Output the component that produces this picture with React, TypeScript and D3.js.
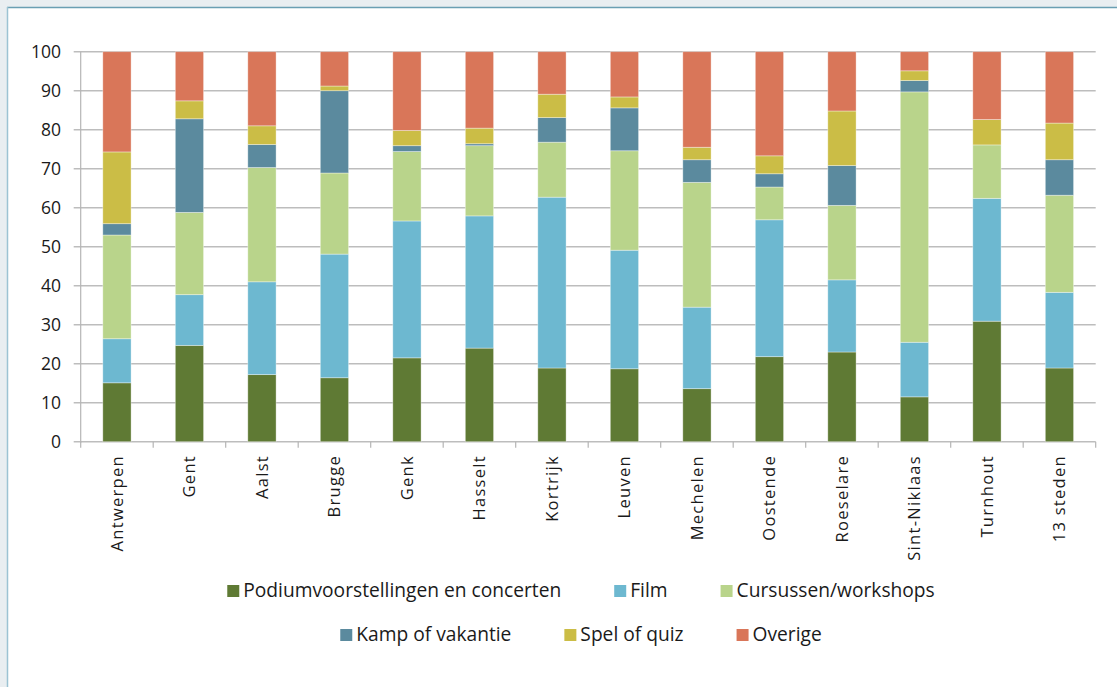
import React, { useEffect, useRef } from "react";
import * as d3 from "d3";

const categories = ["Antwerpen", "Gent", "Aalst", "Brugge", "Genk", "Hasselt", "Kortrijk", "Leuven", "Mechelen", "Oostende", "Roeselare", "Sint-Niklaas", "Turnhout", "13 steden"];
const seriesNames = ["Podiumvoorstellingen en concerten", "Film", "Cursussen/workshops", "Kamp of vakantie", "Spel of quiz", "Overige"];
const podium = [15.1, 24.7, 17.2, 16.4, 21.5, 24.0, 18.9, 18.7, 13.6, 21.8, 23.0, 11.5, 30.9, 18.9];
const film = [11.3, 13.0, 23.8, 31.7, 35.1, 33.9, 43.8, 30.4, 20.9, 35.1, 18.5, 14.0, 31.5, 19.4];
const cursussen = [26.6, 21.1, 29.3, 20.8, 17.8, 18.0, 14.1, 25.5, 32.0, 8.4, 19.1, 64.2, 13.7, 24.9];
const kamp = [2.9, 24.0, 5.9, 21.1, 1.5, 0.5, 6.3, 11.0, 5.8, 3.4, 10.2, 2.9, 0, 9.1];
const spel = [18.4, 4.6, 4.8, 1.2, 3.9, 4.0, 6.0, 2.8, 3.2, 4.6, 14.0, 2.5, 6.5, 9.4];
const overige = [25.7, 12.6, 19.0, 8.8, 20.2, 19.6, 10.9, 11.6, 24.5, 26.7, 15.2, 4.9, 17.4, 18.3];
const colors = ["#5f7a34", "#6db8d0", "#b9d48b", "#5b8a9e", "#cbbd46", "#d97659"];
const yTicks = [0, 10, 20, 30, 40, 50, 60, 70, 80, 90, 100];

const FONT = "'Open Sans', sans-serif";

export default function App() {
  const ref = useRef<SVGSVGElement>(null);
  useEffect(() => {
    const svg = d3.select(ref.current);
    svg.selectAll("*").remove();
    const W = 1117, H = 687;
    svg.append("rect").attr("width", W).attr("height", H).attr("fill", "#e9eef1");
    svg.append("rect").attr("x", 7).attr("y", 7).attr("width", W + 20).attr("height", H + 20).attr("fill", "#ffffff");
    svg.append("line").attr("x1", 7).attr("x2", W).attr("y1", 7.5).attr("y2", 7.5).attr("stroke", "#6a9fb3").attr("stroke-width", 1.5);
    svg.append("line").attr("x1", 7.5).attr("x2", 7.5).attr("y1", 7).attr("y2", H).attr("stroke", "#9cc3d3").attr("stroke-width", 1.5);

    const left = 80.7, right = 1095.7, top = 51.7, bottom = 441.7;
    const x = d3.scaleBand<string>().domain(categories).range([left, right]).paddingInner(0.61).paddingOuter(0.305);
    const y = d3.scaleLinear().domain([0, 100]).range([bottom, top]);

    const rows = categories.map((c, i) => ({ cat: c, s0: podium[i], s1: film[i], s2: cursussen[i], s3: kamp[i], s4: spel[i], s5: overige[i] }));
    const keys = ["s0", "s1", "s2", "s3", "s4", "s5"];
    const stacked = d3.stack<any>().keys(keys)(rows);

    const g = svg.append("g");
    g.selectAll("line.grid").data(yTicks).join("line")
      .attr("x1", left - 7).attr("x2", right).attr("y1", (d) => y(d)).attr("y2", (d) => y(d))
      .attr("stroke", "#bdbdbd").attr("stroke-width", 1.6);
    g.append("line").attr("x1", left).attr("x2", left).attr("y1", top).attr("y2", bottom + 1).attr("stroke", "#b5b5b5").attr("stroke-width", 1.2);
    const bounds = d3.range(categories.length + 1).map((i) => left + i * x.step());
    g.selectAll("line.ct").data(bounds).join("line")
      .attr("x1", (d) => d).attr("x2", (d) => d).attr("y1", bottom).attr("y2", bottom + 6)
      .attr("stroke", "#b5b5b5").attr("stroke-width", 1.2);

    stacked.forEach((layer, k) => {
      g.append("g").selectAll("rect").data(layer).join("rect")
        .attr("x", (d: any) => x(d.data.cat)!)
        .attr("width", x.bandwidth())
        .attr("y", (d: any) => y(d[1]))
        .attr("height", (d: any) => Math.max(0, y(d[0]) - y(d[1])))
        .attr("fill", colors[k])
        .attr("stroke", "rgba(255,255,255,0.45)").attr("stroke-width", 0.8);
    });

    g.selectAll("text.yt").data(yTicks).join("text")
      .attr("x", 61).attr("y", (d) => y(d)).attr("dy", "0.36em")
      .attr("text-anchor", "end").attr("font-family", FONT).attr("font-size", 17.5).attr("fill", "#1a1a1a")
      .text((d) => d);

    g.selectAll("text.xt").data(categories).join("text")
      .attr("transform", (d) => `translate(${x(d)! + x.bandwidth() / 2},455) rotate(-90)`)
      .attr("dy", "0.35em").attr("text-anchor", "end")
      .attr("font-family", FONT).attr("font-size", 16.5).attr("letter-spacing", 1.3).attr("fill", "#1a1a1a")
      .text((d) => d);

    const legendRows = [[0, 1, 2], [3, 4, 5]];
    const rowY = [597, 641];
    const gap = 53, sw = 12, tx = 4;
    legendRows.forEach((row, ri) => {
      const lg = svg.append("g");
      let cx = 0;
      row.forEach((si) => {
        const it = lg.append("g").attr("transform", `translate(${cx},0)`);
        it.append("rect").attr("x", 0).attr("y", -sw).attr("width", sw).attr("height", sw).attr("fill", colors[si]);
        const t = it.append("text").attr("x", sw + tx).attr("y", 0)
          .attr("font-family", FONT).attr("font-size", 19.2).attr("fill", "#1a1a1a").text(seriesNames[si]);
        const w = (t.node() as SVGTextElement).getComputedTextLength();
        cx += sw + tx + w + gap;
      });
      const total = cx - gap;
      lg.attr("transform", `translate(${581 - total / 2},${rowY[ri]})`);
    });
  }, []);
  return <svg ref={ref} width={1117} height={687} style={{ position: "absolute", left: 0, top: 0 }} />;
}
